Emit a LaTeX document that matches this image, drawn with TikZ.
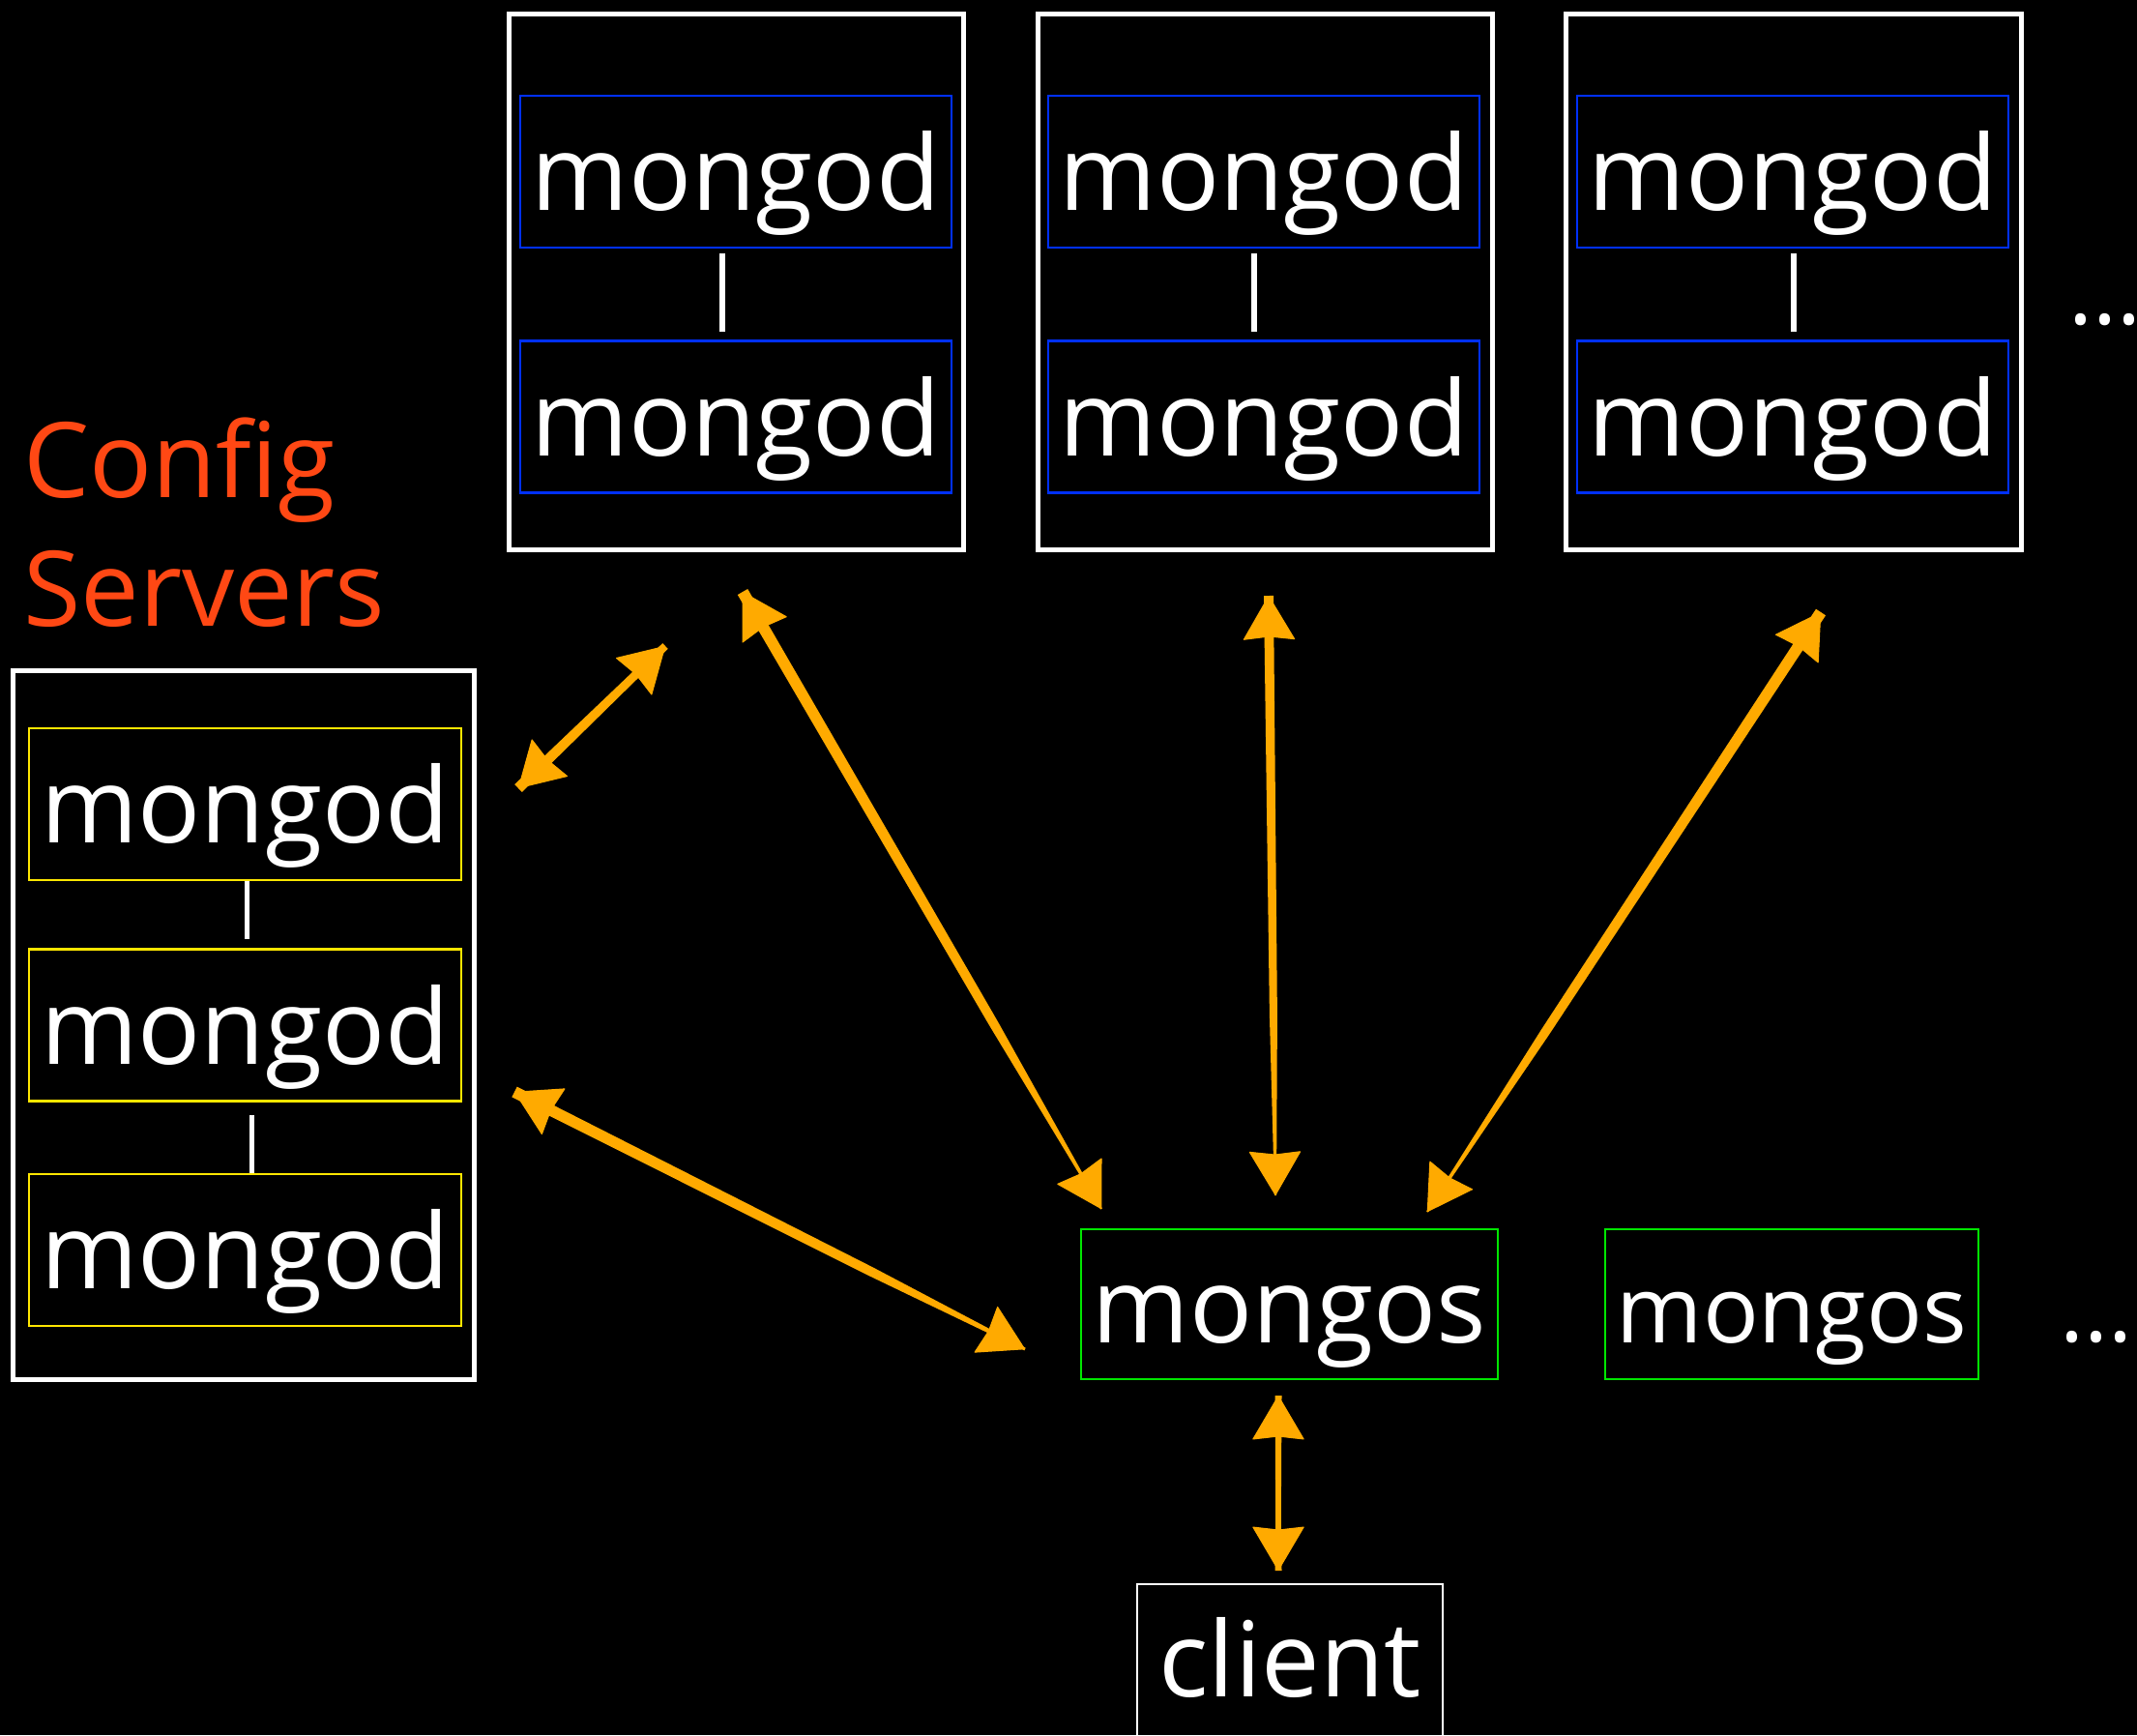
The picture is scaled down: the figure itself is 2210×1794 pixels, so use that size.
\documentclass[tikz,border=0pt]{standalone}
\usepackage{fontspec}
\setmainfont{Open Sans}
\usetikzlibrary{arrows.meta,calc}

\definecolor{shardblue}{RGB}{0,48,255}
\definecolor{cfgyellow}{RGB}{255,230,0}
\definecolor{routergreen}{RGB}{0,230,0}
\definecolor{linkorange}{RGB}{255,170,0}
\definecolor{cfgred}{RGB}{255,72,20}

\tikzset{
  every node/.style={text=white, inner sep=0pt, font=\fontsize{108}{133}\selectfont},
  member/.style={draw, line width=2.5pt, minimum width=446pt, minimum height=157pt,
                 text height=80pt, text depth=0pt},
  shardm/.style={member, draw=shardblue},
  cfgm/.style={member, draw=cfgyellow},
  group/.style={draw=white, line width=5pt},
  router/.style={draw=routergreen, line width=2.5pt, minimum height=155pt,
                 text height=80pt, text depth=0pt},
  tie/.style={draw=white, line width=6pt},
  headtip/.tip={Stealth[length=46pt, width=54pt, inset=3pt, round]},
  linkline/.style={draw=linkorange, fill=linkorange, line width=1pt, line join=round,
                   headtip-headtip},
}

% two-headed brush-like link: from, to, half width at start, half width at end
\newcommand\duplink[4]{%
  \coordinate (linkmid) at ($(#1)!0.7!(#2)$);
  \fill[linkorange] ($(#1)!#3!90:(#2)$) -- ($(linkmid)!0.8*#3!90:(#2)$)
        -- ($(#2)!#4!-90:(#1)$) -- ($(#2)!#4!90:(#1)$)
        -- ($(linkmid)!0.8*#3!-90:(#2)$) -- ($(#1)!#3!-90:(#2)$) -- cycle;
  \path[linkline] (#1) -- (#2);
}

\begin{document}
\begin{tikzpicture}[x=1pt, y=-1pt]
  \fill[black] (0,0) rectangle (2210,1794);
  \useasboundingbox (0,0) rectangle (2210,1794);
  \clip (0,0) rectangle (2210,1794);

  % shards: replica pairs
  \node[group, minimum width=470pt, minimum height=554pt] (sh1) at (761,291) {};
  \node[group, minimum width=470pt, minimum height=554pt] (sh2) at (1308,291) {};
  \node[group, minimum width=471pt, minimum height=554pt] (sh3) at (1854.5,291) {};

  \node[shardm] (s1a) at (761,177.5) {mongod};
  \node[shardm] (s1b) at (761,431) {mongod};
  \node[shardm] (s2a) at (1307,177.5) {mongod};
  \node[shardm] (s2b) at (1307,431) {mongod};
  \node[shardm] (s3a) at (1854,177.5) {mongod};
  \node[shardm] (s3b) at (1854,431) {mongod};

  \draw[tie, shorten <=5pt, shorten >=8pt] ([xshift=-14pt]s1a.south) -- ([xshift=-14pt]s1b.north);
  \draw[tie, shorten <=5pt, shorten >=8pt] ([xshift=-10pt]s2a.south) -- ([xshift=-10pt]s2b.north);
  \draw[tie, shorten <=5pt, shorten >=8pt] ([xshift=1pt]s3a.south) -- ([xshift=1pt]s3b.north);

  \node[anchor=base west] (more1) at (2139,335) {\fontsize{94}{100}\selectfont ...};

  % config servers
  \node[anchor=base west, text=cfgred, align=left] (cfglabel) at (24,647) {Config\\Servers};

  \node[group, minimum width=477pt, minimum height=733pt] (cfg) at (251.5,1059.5) {};
  \node[cfgm, minimum width=447pt] (c1) at (253.5,831.5) {mongod};
  \node[cfgm, minimum width=447pt] (c2) at (253.5,1060) {mongod};
  \node[cfgm, minimum width=447pt] (c3) at (253.5,1292.5) {mongod};

  \draw[tie, line width=5pt, shorten >=9pt] ([xshift=1.5pt]c1.south) -- ([xshift=1.5pt]c2.north);
  \draw[tie, line width=5pt, shorten <=13pt] ([xshift=6.5pt]c2.south) -- ([xshift=6.5pt]c3.north);

  % routers and client
  \node[router, minimum width=431pt] (ms1) at (1333.5,1348.5) {mongos};
  \node[router, minimum width=386pt, font=\fontsize{96}{110}\selectfont] (ms2) at (1853,1348.5) {mongos};
  \node[anchor=base west] (more2) at (2130,1387) {\fontsize{94}{100}\selectfont ...};

  \node[draw=white, line width=2.5pt, minimum width=316pt, minimum height=232pt,
        text height=0pt, text depth=0pt] (client) at (1334,1754) {client};

  % link end points
  \coordinate (cfgTop)  at (536,815);
  \coordinate (shOneE)  at (688,668);
  \coordinate (shOneM)  at (768,612);
  \coordinate (msOne)   at (1139,1250);
  \coordinate (cfgMid)  at (532,1129);
  \coordinate (msLeft)  at (1060,1395);
  \coordinate (shTwoM)  at (1312,616);
  \coordinate (msTwo)   at (1319,1236);
  \coordinate (shThrM)  at (1883,633);
  \coordinate (msThr)   at (1476,1253);
  \coordinate (msDown)  at (1322,1443);
  \coordinate (clUp)    at (1322,1624);

  \duplink{cfgTop}{shOneE}{5.5pt}{4pt}
  \duplink{shOneM}{msOne}{6pt}{1pt}
  \duplink{cfgMid}{msLeft}{6pt}{1.5pt}
  \duplink{shTwoM}{msTwo}{5pt}{1pt}
  \duplink{shThrM}{msThr}{6pt}{1pt}
  \duplink{msDown}{clUp}{3.5pt}{3.5pt}
\end{tikzpicture}
\end{document}
